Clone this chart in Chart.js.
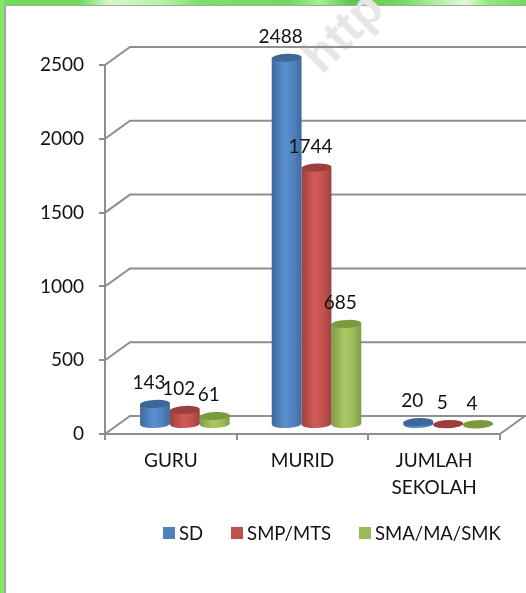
<!DOCTYPE html>
<html>
<head>
<meta charset="utf-8">
<script src="https://cdn.jsdelivr.net/npm/chart.js@4"></script>
<style>
html, body { margin: 0; padding: 0; background: #fff; overflow: hidden; }
#wrap { position: relative; width: 526px; height: 593px; overflow: hidden; }
#top-band { position: absolute; left: 0; top: 0; width: 526px; height: 5px;
  background: linear-gradient(90deg, #6fdc5c 0, #6fdc5c 80px, #d8f8cc 110px, #b6f0a4 165px, #7be066 200px, #6fdc5c 290px, #a8ee94 320px, #5cc84a 350px, #6fdc5c 400px, #e4fadc 465px, #8fe87c 490px, #6fdc5c 526px); }
#left-band { position: absolute; left: 0; top: 0; width: 4px; height: 593px; background: #7fe86a; }
#frame { position: absolute; left: 4px; top: 5px; width: 522px; height: 588px; border-left: 2px solid #a6a6a6; border-top: 1px solid #a6a6a6; box-sizing: border-box; }
#mark { position: absolute; left: 297px; top: 4px; font: bold 48px "Liberation Sans", sans-serif; color: #e6e6e6; transform: rotate(-45deg); transform-origin: center; }
canvas { position: absolute; left: 0; top: 0; }
#legend { position: absolute; left: 163px; top: 521px; display: flex; gap: 28px; font: 18.5px/24px Lato, sans-serif; color: #111; white-space: nowrap; }
#legend span.item { display: flex; align-items: center; gap: 4px; }
#legend i { display: block; width: 12px; height: 12px; }
</style>
</head>
<body>
<div id="wrap">
  <div id="top-band"></div>
  <div id="left-band"></div>
  <div id="frame"></div>
  <div id="mark">http</div>
  <canvas id="myChart" width="526" height="593"></canvas>
  <div id="legend"></div>
</div>
<script>
// data
const categories = ['GURU', 'MURID', ['JUMLAH', 'SEKOLAH']];
const sdValues = [143, 2488, 20];
const smpValues = [102, 1744, 5];
const smaValues = [61, 685, 4];
const seriesNames = ['SD', 'SMP/MTS', 'SMA/MA/SMK'];
const yMax = 2500;
const yStep = 500;

const fillColors = ['#4f81bd', '#c0504d', '#9bbb59'];
const lightColors = ['#5a90d0', '#d25a56', '#a9cb62'];
const edgeColors = ['#3f6a9c', '#9c4240', '#7f9c48'];
const capColors = ['#3c6898', '#9a3f3c', '#7a9a3e'];

const gridColor = '#8e8e8e';
const fontName = 'Lato, sans-serif';
const depthX = 25, depthY = 18;
const barShiftX = 14, barShiftY = -9;
const capY = 4;
const CAT_PCT = 0.68;

function cylinderFill(ctx) {
    const chart = ctx.chart, i = ctx.datasetIndex;
    const xs = chart.scales.x;
    const w = xs.width / categories.length * CAT_PCT / 3;
    const cx = xs.getPixelForValue(ctx.dataIndex) + (i - 1) * w;
    // chart.js also asks for this before the scales are ready
    if (!isFinite(cx) || !isFinite(w)) return fillColors[i];
    const g = chart.ctx.createLinearGradient(cx - w / 2, 0, cx + w / 2, 0);
    g.addColorStop(0, edgeColors[i]);
    g.addColorStop(0.45, lightColors[i]);
    g.addColorStop(0.75, fillColors[i]);
    g.addColorStop(1, edgeColors[i]);
    return g;
}

// walls of the 3D box, drawn behind the bars
const wallPlugin = {
    id: 'wall',
    beforeDatasetsDraw(chart) {
        const c = chart.ctx, y = chart.scales.y, a = chart.chartArea;
        c.save();
        c.strokeStyle = gridColor;
        c.lineWidth = 2;
        y.ticks.forEach(t => {
            const py = y.getPixelForValue(t.value);
            c.beginPath();
            c.moveTo(a.left, py);
            c.lineTo(a.left + depthX, py - depthY);
            c.lineTo(chart.width, py - depthY);
            c.stroke();
        });
        c.beginPath();
        c.moveTo(a.right, a.bottom);
        c.lineTo(a.right + depthX, a.bottom - depthY);
        c.stroke();
        c.restore();
    }
};

// moves each bar into the box and gives it round ends
const cylinderPlugin = {
    id: 'cylinder',
    beforeDatasetDraw(chart, args) {
        const c = chart.ctx;
        c.save();
        c.translate(barShiftX, barShiftY);
        args.meta.data.forEach((el, i) => {
            const p = el.getProps(['x', 'base', 'width'], true);
            c.beginPath();
            c.ellipse(p.x, p.base, p.width / 2, capY, -0.03, 0, Math.PI * 2);
            c.fillStyle = cylinderFill({ chart, datasetIndex: args.index, dataIndex: i });
            c.fill();
        });
    },
    afterDatasetDraw(chart, args) {
        const c = chart.ctx;
        args.meta.data.forEach(el => {
            const p = el.getProps(['x', 'y', 'width'], true);
            c.beginPath();
            c.ellipse(p.x, p.y, p.width / 2, capY, -0.05, 0, Math.PI * 2);
            c.fillStyle = capColors[args.index];
            c.fill();
        });
        c.restore();
    },
    afterDatasetsDraw(chart) {
        const c = chart.ctx;
        c.save();
        c.font = '19px ' + fontName;
        c.fillStyle = '#111';
        c.textAlign = 'center';
        c.textBaseline = 'middle';
        chart.data.datasets.forEach((ds, d) => {
            chart.getDatasetMeta(d).data.forEach((el, i) => {
                const p = el.getProps(['x', 'y'], true);
                c.fillText(ds.data[i], p.x + barShiftX - 6, p.y + barShiftY - 21);
            });
        });
        c.restore();
    }
};

const ctx = document.getElementById('myChart').getContext('2d');
new Chart(ctx, {
    type: 'bar',
    data: {
        labels: categories,
        datasets: seriesNames.map((name, i) => ({
            label: name,
            data: [sdValues, smpValues, smaValues][i],
            backgroundColor: cylinderFill,
            borderWidth: 0,
            categoryPercentage: CAT_PCT,
            barPercentage: 1,
            clip: false
        }))
    },
    plugins: [wallPlugin, cylinderPlugin],
    options: {
        responsive: false,
        animation: false,
        layout: { padding: { top: 65, left: 20, right: 26, bottom: 89 } },
        plugins: {
            tooltip: { enabled: false },
            legend: { display: false }
        },
        scales: {
            x: {
                afterFit(s) { s.height = 70; },
                grid: { drawOnChartArea: false, drawTicks: true, tickLength: 6, color: gridColor, lineWidth: 2 },
                border: { color: gridColor, width: 2 },
                ticks: { color: '#111', padding: 7, maxRotation: 0, font: { family: fontName, size: 19, lineHeight: 1.42 } }
            },
            y: {
                min: 0,
                max: yMax,
                afterFit(s) { s.width = 85; },
                grid: { drawOnChartArea: false, drawTicks: true, tickLength: 6, color: gridColor, lineWidth: 2 },
                border: { color: gridColor, width: 2 },
                ticks: { stepSize: yStep, color: '#111', padding: 15, font: { family: fontName, size: 19 }, callback: v => String(v) }
            }
        }
    }
});

// legend row under the chart
const legendBox = document.getElementById('legend');
seriesNames.forEach((name, i) => {
    const item = document.createElement('span');
    item.className = 'item';
    item.innerHTML = `<i style="background:${fillColors[i]}"></i>${name}`;
    legendBox.appendChild(item);
});
</script>
</body>
</html>
